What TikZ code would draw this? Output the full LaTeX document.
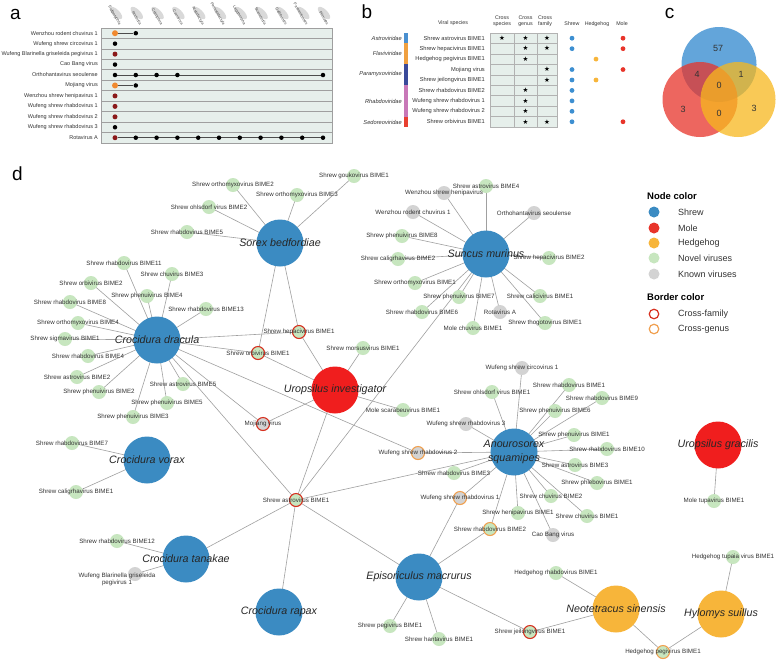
\documentclass[tikz,border=0pt]{standalone}
\usepackage{fontspec}
\setmainfont{Liberation Sans}
\newfontfamily\symfont{DejaVu Sans}
\pgfdeclarelayer{bg}\pgfdeclarelayer{edges}\pgfdeclarelayer{fg}
\pgfsetlayers{bg,edges,main,fg}
\definecolor{shrewc}{HTML}{3B8BC2}
\definecolor{molec}{HTML}{F01E1E}
\definecolor{hedgec}{HTML}{F7B53A}
\definecolor{novc}{HTML}{C7E6BF}
\definecolor{knownc}{HTML}{D3D3D3}
\definecolor{cfred}{HTML}{D7301F}
\definecolor{cgor}{HTML}{F0A050}
\definecolor{edgec}{HTML}{A0A0A0}
\definecolor{labc}{HTML}{333333}
\definecolor{rowbg}{HTML}{E6EFEB}
\definecolor{aor}{HTML}{F08A30}
\definecolor{adred}{HTML}{8B1A1A}
\definecolor{fastro}{HTML}{4A90D0}
\definecolor{fflavi}{HTML}{F0A040}
\definecolor{fparam}{HTML}{3A4A9A}
\definecolor{frhab}{HTML}{C878B8}
\definecolor{fsedo}{HTML}{E84030}
\definecolor{vblue}{HTML}{3D8FD1}
\definecolor{vred}{HTML}{E8342A}
\definecolor{vyel}{HTML}{F7B81E}
\tikzset{
  edge/.style={draw=edgec, line width=0.6pt},
  vir/.style={circle, inner sep=0pt, minimum size=14pt, fill=novc},
  nov/.style={fill=novc},
  kno/.style={fill=knownc},
  cf/.style={draw=cfred, line width=1.1pt, minimum size=13pt},
  cg/.style={draw=cgor, line width=1.1pt, minimum size=13pt},
  host/.style={circle, inner sep=0pt, minimum size=47pt},
  vlab/.style={font=\fontsize{6.2}{7}\selectfont, text=labc, inner sep=0pt, align=center},
  hlab/.style={font=\fontsize{10.7}{13.5}\selectfont\itshape, text=black!85, inner sep=0pt, align=center},
  plet/.style={font=\fontsize{19}{19}\selectfont, inner sep=0pt},
  rowbox/.style={fill=rowbg, draw=gray!75, line width=0.7pt},
  cellbox/.style={fill=rowbg, draw=gray!60, line width=0.5pt},
  alab/.style={font=\fontsize{5.5}{7}\selectfont, text=labc, inner sep=0pt, anchor=east},
  adot/.style={circle, inner sep=0pt, minimum size=4.5pt},
  aline/.style={draw=black!70, line width=0.7pt},
  ahead/.style={font=\fontsize{3.9}{4.5}\selectfont, text=black!70, inner sep=0pt, rotate=-60},
  blab/.style={font=\fontsize{5.7}{7}\selectfont, text=labc, inner sep=0pt, anchor=east},
  bfam/.style={font=\fontsize{5.7}{7}\selectfont\itshape, text=labc, inner sep=0pt, anchor=east},
  bhead/.style={font=\fontsize{5.3}{6.3}\selectfont, text=labc, inner sep=0pt, align=center},
  bstar/.style={font=\symfont\fontsize{6.5}{7}\selectfont, inner sep=0pt},
  bdot/.style={circle, inner sep=0pt, minimum size=4.8pt},
  vnum/.style={font=\fontsize{9}{10}\selectfont, text=black!80, inner sep=0pt},
  legt/.style={font=\fontsize{9.5}{11}\selectfont\bfseries, inner sep=0pt, anchor=west},
  legl/.style={font=\fontsize{9}{11}\selectfont, text=black!80, inner sep=0pt, anchor=west},
  legc/.style={circle, inner sep=0pt, minimum size=11pt},
}
\newcommand\vnode[5][]{\node[vir,#1] (#2) at (#3,#4) {};%
  \begin{pgfonlayer}{fg}\node[vlab] (#2l) at (#3,#4) {#5};\end{pgfonlayer}}
\newcommand\hnode[5]{\node[host,fill=#1] (#2) at (#3,#4) {};%
  \begin{pgfonlayer}{fg}\node[hlab] (#2l) at (#3,#4) {#5};\end{pgfonlayer}}
\begin{document}
\begin{tikzpicture}[x=1pt,y=-1pt]
\useasboundingbox (0,0) rectangle (778,662);
\begin{pgfonlayer}{bg}\fill[white] (0,0) rectangle (778,662);\end{pgfonlayer}

% ---------- panel letters
\node[plet] (la) at (15.5,14.5) {a};
\node[plet] (lb) at (367,11.5) {b};
\node[plet] (lc) at (669.5,13) {c};
\node[plet] (ld) at (17.5,173.5) {d};

% ---------- panel a
\foreach \j/\t in {1/Eulipotyphla,2/Rodentia,3/Chiroptera,4/Carnivora,5/Artiodactyla,6/Perissodactyla,7/Lagomorpha,8/Scandentia,9/Galliformes,10/Passeriformes,11/Primates}{
  \pgfmathsetmacro\xc{115+20.8*(\j-1)}
  \begin{pgfonlayer}{bg}\fill[gray!30] (\xc+1,13) ellipse[x radius=8pt, y radius=3.5pt, rotate=-45];\end{pgfonlayer}
  \node[ahead, anchor=east] (ah\j) at (\xc+5,25) {\t};
}
\foreach \i/\lab/\c/\s in {
 1/Wenzhou rodent chuvirus 1/aor/6,
 2/Wufeng shrew circovirus 1/black/4.5,
 3/Wufeng Blarinella griseleida pegivirus 1/adred/5,
 4/Cao Bang virus/black/4.5,
 5/Orthohantavirus seoulense/black/4.5,
 6/Mojiang virus/aor/6,
 7/Wenzhou shrew henipavirus 1/adred/5,
 8/Wufeng shrew rhabdovirus 1/adred/5,
 9/Wufeng shrew rhabdovirus 2/adred/5,
 10/Wufeng shrew rhabdovirus 3/black/4.5,
 11/Rotavirus A/adred/5}{
  \pgfmathsetmacro\yt{28+10.45*(\i-1)}
  \pgfmathsetmacro\yb{\yt+10.45}
  \pgfmathsetmacro\yc{\yt+5.22}
  \begin{pgfonlayer}{bg}\draw[rowbox] (101,\yt) rectangle (332,\yb);\end{pgfonlayer}
  \node[alab] (ar\i) at (98,\yc) {\lab};
  \node[adot, fill=\c, minimum size=\s pt] (a\i-1) at (115,\yc) {};
}
\foreach \i/\j in {1/2,5/2,5/3,5/4,5/11,6/2,11/2,11/3,11/4,11/5,11/6,11/7,11/8,11/9,11/10,11/11}{
  \pgfmathsetmacro\yc{33.22+10.45*(\i-1)}
  \pgfmathsetmacro\xc{115+20.8*(\j-1)}
  \node[adot, fill=black] (a\i-\j) at (\xc,\yc) {};
}
\begin{pgfonlayer}{edges}
\draw[aline] (a1-1) -- (a1-2);
\draw[aline] (a5-1) -- (a5-11);
\draw[aline] (a6-1) -- (a6-2);
\draw[aline] (a11-1) -- (a11-11);
\end{pgfonlayer}

% ---------- panel b
\node[bhead] (bh0) at (453,23) {Viral species};
\node[bhead] (bh1) at (502,21.5) {Cross\\species};
\node[bhead] (bh2) at (525.5,21.5) {Cross\\genus};
\node[bhead] (bh3) at (545,21.5) {Cross\\family};
\node[bhead] (bh4) at (572,24) {Shrew};
\node[bhead] (bh5) at (597,24) {Hedgehog};
\node[bhead] (bh6) at (622,24) {Mole};
\foreach \i/\sp/\s/\g/\f/\hs/\hh/\hm in {
 1/Shrew astrovirus BIME1/1/1/1/1/0/1,
 2/Shrew hepacivirus BIME1/0/1/1/1/0/1,
 3/Hedgehog pegivirus BIME1/0/1/0/0/1/0,
 4/Mojiang virus/0/0/1/1/0/1,
 5/Shrew jeilongvirus  BIME1/0/0/1/1/1/0,
 6/Shrew rhabdovirus BIME2/0/1/0/1/0/0,
 7/Wufeng shrew rhabdovirus 1/0/1/0/1/0/0,
 8/Wufeng shrew rhabdovirus 2/0/1/0/1/0/0,
 9/Shrew orbivirus BIME1/0/1/1/1/0/1}{
  \pgfmathsetmacro\yt{33+10.44*(\i-1)}
  \pgfmathsetmacro\yb{\yt+10.44}
  \pgfmathsetmacro\yc{\yt+5.22}
  \begin{pgfonlayer}{bg}
  \draw[cellbox] (490,\yt) rectangle (514,\yb);
  \draw[cellbox] (514,\yt) rectangle (537,\yb);
  \draw[cellbox] (537,\yt) rectangle (557,\yb);
  \end{pgfonlayer}
  \node[blab] (bsp\i) at (485,\yc) {\sp};
  \ifnum\s=1 \node[bstar] (bss\i) at (502,\yc) {★};\fi
  \ifnum\g=1 \node[bstar] (bsg\i) at (525.5,\yc) {★};\fi
  \ifnum\f=1 \node[bstar] (bsf\i) at (547,\yc) {★};\fi
  \ifnum\hs=1 \node[bdot, fill=vblue] (bds\i) at (572,\yc) {};\fi
  \ifnum\hh=1 \node[bdot, fill=hedgec] (bdh\i) at (596,\yc) {};\fi
  \ifnum\hm=1 \node[bdot, fill=vred] (bdm\i) at (623,\yc) {};\fi
}
\fill[fastro] (404,33) rectangle (407.5,43.44);
\fill[fflavi] (404,43.44) rectangle (407.5,64.32);
\fill[fparam] (404,64.32) rectangle (407.5,85.2);
\fill[frhab] (404,85.2) rectangle (407.5,116.52);
\fill[fsedo] (404,116.52) rectangle (407.5,127);
\node[bfam] (bf1) at (402,38) {Astroviridae};
\node[bfam] (bf2) at (402,53.5) {Flaviviridae};
\node[bfam] (bf3) at (402,74.5) {Paramyxoviridae};
\node[bfam] (bf4) at (402,101) {Rhabdoviridae};
\node[bfam] (bf5) at (402,122) {Sedoreoviridae};

% ---------- panel c
\fill[vblue, fill opacity=0.8] (719,64.5) circle (37.5pt);
\fill[vred, fill opacity=0.75] (700,99.5) circle (37.5pt);
\fill[vyel, fill opacity=0.75] (738,99.5) circle (37.5pt);
\node[vnum] (c57) at (718,48) {57};
\node[vnum] (c4) at (697,74) {4};
\node[vnum] (c1) at (741,74) {1};
\node[vnum] (c0a) at (719,85) {0};
\node[vnum] (c3a) at (683,109) {3};
\node[vnum] (c0b) at (719,113) {0};
\node[vnum] (c3b) at (754,108) {3};

% ---------- panel d legend
\node[legt] (lnc) at (647,196) {Node color};
\node[legc, fill=shrewc] (lg1) at (654,212) {}; \node[legl] (lt1) at (678,212) {Shrew};
\node[legc, fill=vred] (lg2) at (654,228) {}; \node[legl] (lt2) at (678,228) {Mole};
\node[legc, fill=hedgec] (lg3) at (654,243) {}; \node[legl] (lt3) at (678,243) {Hedgehog};
\node[legc, fill=novc] (lg4) at (654,258) {}; \node[legl] (lt4) at (678,258) {Novel viruses};
\node[legc, fill=knownc] (lg5) at (654,274) {}; \node[legl] (lt5) at (678,274) {Known viruses};
\node[legt] (lbc) at (647,297) {Border color};
\node[legc, fill=white, draw=cfred, line width=1.2pt, minimum size=9.5pt] (lg6) at (654,314) {}; \node[legl] (lt6) at (678,314) {Cross-family};
\node[legc, fill=white, draw=cgor, line width=1.2pt, minimum size=9.5pt] (lg7) at (654,329) {}; \node[legl] (lt7) at (678,329) {Cross-genus};

% ---------- panel d hosts
\hnode{shrewc}{SB}{280}{243}{Sorex bedfordiae}
\hnode{shrewc}{SM}{486}{254}{Suncus murinus}
\hnode{shrewc}{CD}{157}{340}{Crocidura dracula}
\hnode{molec}{UI}{335}{390}{Uropsilus investigator}
\hnode{shrewc}{CV}{147}{460}{Crocidura vorax}
\hnode{shrewc}{CT}{186}{559}{Crocidura tanakae}
\hnode{shrewc}{CR}{279}{612}{Crocidura rapax}
\hnode{shrewc}{EM}{419}{577}{Episoriculus macrurus}
\hnode{shrewc}{AS}{514}{452}{Anourosorex\\squamipes}
\hnode{molec}{UG}{718}{445}{Uropsilus gracilis}
\hnode{hedgec}{NS}{616}{609}{Neotetracus sinensis}
\hnode{hedgec}{HS}{721}{614}{Hylomys suillus}

% ---------- panel d viruses
\vnode{v1}{233}{185}{Shrew orthomyxovirus BIME2}
\vnode{v2}{209}{207}{Shrew ohlsdorf virus BIME2}
\vnode{v3}{187}{232}{Shrew rhabdovirus BIME5}
\vnode{v4}{297}{195}{Shrew orthomyxovirus BIME3}
\vnode{v5}{354}{176}{Shrew goukovirus BIME1}
\vnode[cf]{hep1}{299}{332}{Shrew hepacivirus BIME1}
\vnode[cf]{orb1}{258}{353}{Shrew orbivirus BIME1}
\vnode[kno]{v8}{444}{193}{Wenzhou shrew henipavirus}
\vnode{v9}{486}{186}{Shrew astrovirus BIME4}
\vnode[kno]{v10}{413}{212}{Wenzhou rodent chuvirus 1}
\vnode[kno]{v11}{534}{213}{Orthohantavirus seoulense}
\vnode{v12}{402}{236}{Shrew phenuivirus BIME8}
\vnode{v13}{398}{259}{Shrew caligrhavirus BIME2}
\vnode{v14}{549}{258}{Shrew hepacivirus BIME2}
\vnode{v15}{415}{283}{Shrew orthomyxovirus BIME1}
\vnode{v16}{459}{297}{Shrew phenuivirus BIME7}
\vnode{v17}{422}{312}{Shrew rhabdovirus BIME6}
\vnode[kno]{v18}{500}{312}{Rotavirus A}
\vnode{v19}{473}{328}{Mole chuvirus BIME1}
\vnode{v20}{540}{296}{Shrew calicivirus BIME1}
\vnode{v21}{545}{323}{Shrew thogotovirus BIME1}
\vnode{v22}{363}{348}{Shrew morsusvirus BIME1}
\vnode{v23}{124}{263}{Shrew rhabdovirus BIME11}
\vnode{v24}{172}{274}{Shrew chuvirus BIME3}
\vnode{v25}{91}{283}{Shrew orbivirus BIME2}
\vnode{v26}{147}{296}{Shrew phenuivirus BIME4}
\vnode{v27}{70}{302}{Shrew rhabdovirus BIME8}
\vnode{v28}{206}{309}{Shrew rhabdovirus BIME13}
\vnode{v29}{78}{323}{Shrew orthomyxovirus BIME4}
\vnode{v30}{65}{339}{Shrew sigmavirus BIME1}
\vnode{v31}{88}{356}{Shrew rhabdovirus BIME4}
\vnode{v32}{77}{377}{Shrew astrovirus BIME2}
\vnode{v33}{99}{392}{Shrew phenuivirus BIME2}
\vnode{v34}{183}{384}{Shrew astrovirus BIME5}
\vnode{v35}{167}{403}{Shrew phenuivirus BIME5}
\vnode{v36}{133}{417}{Shrew phenuivirus BIME3}
\vnode[kno,cf]{moj}{263}{424}{Mojiang virus}
\vnode{v38}{403}{410}{Mole scarabeuvirus BIME1}
\vnode[cf]{astro1}{296}{500}{Shrew astrovirus BIME1}
\vnode{v40}{72}{443}{Shrew rhabdovirus BIME7}
\vnode{v41}{76}{492}{Shrew caligrhavirus BIME1}
\vnode{v42}{117}{541}{Shrew rhabdovirus BIME12}
\node[vir,kno] (v43) at (135,574) {};
\begin{pgfonlayer}{fg}\node[vlab] (v43l) at (117,579.5) {Wufeng Blarinella griseleida\\pegivirus 1};\end{pgfonlayer}
\vnode{v44}{492}{392}{Shrew ohlsdorf virus BIME1}
\vnode[kno]{v45}{522}{368}{Wufeng shrew circovirus 1}
\vnode[kno]{v46}{466}{424}{Wufeng shrew rhabdovirus 3}
\vnode[kno,cg]{wr2}{418}{453}{Wufeng shrew rhabdovirus 2}
\vnode{v48}{454}{473}{Shrew rhabdovirus BIME3}
\vnode[kno,cg]{wr1}{460}{498}{Wufeng shrew rhabdovirus 1}
\vnode{v50}{518}{513}{Shrew henipavirus BIME1}
\vnode[cg]{rb2}{490}{529}{Shrew rhabdovirus BIME2}
\vnode[kno]{v52}{553}{535}{Cao Bang virus}
\vnode{v53}{551}{496}{Shrew chuvirus BIME2}
\vnode{v54}{587}{516}{Shrew chuvirus BIME1}
\vnode{v55}{597}{483}{Shrew phlebovirus BIME1}
\vnode{v56}{575}{465}{Shrew astrovirus BIME3}
\vnode{v57}{607}{449}{Shrew rhabdovirus BIME10}
\vnode{v58}{574}{435}{Shrew phenuivirus BIME1}
\vnode{v59}{555}{411}{Shrew phenuivirus BIME6}
\vnode{v60}{569}{385}{Shrew rhabdovirus BIME1}
\vnode{v61}{602}{398}{Shrew rhabdovirus BIME9}
\vnode{v62}{714}{501}{Mole tupavirus BIME1}
\vnode{v63}{390}{626}{Shrew pegivirus BIME1}
\vnode{v64}{439}{639}{Shrew hantavirus BIME1}
\vnode[cf]{jei}{530}{632}{Shrew jeilongvirus BIME1}
\vnode{v66}{556}{573}{Hedgehog rhabdovirus BIME1}
\vnode[cg]{hpeg}{663}{652}{Hedgehog pegivirus BIME1}
\vnode{v68}{733}{557}{Hedgehog tupaia virus BIME1}

% ---------- panel d edges
\begin{pgfonlayer}{edges}
\foreach \a/\b in {SB/v1,SB/v2,SB/v3,SB/v4,SB/v5,SB/hep1,SB/orb1,
  SM/v8,SM/v9,SM/v10,SM/v11,SM/v12,SM/v13,SM/v14,SM/v15,SM/v16,SM/v17,SM/v18,SM/v19,SM/v20,SM/v21,SM/astro1,
  CD/v23,CD/v24,CD/v25,CD/v26,CD/v27,CD/v28,CD/v29,CD/v30,CD/v31,CD/v32,CD/v33,CD/v34,CD/v35,CD/v36,
  CD/hep1,CD/orb1,CD/moj,CD/astro1,CD/wr2,
  UI/hep1,UI/orb1,UI/v22,UI/v38,UI/moj,UI/astro1,
  CV/v40,CV/v41,CT/v42,CT/v43,CT/astro1,CR/astro1,
  EM/astro1,EM/wr1,EM/rb2,EM/v63,EM/v64,EM/jei,
  AS/v44,AS/v45,AS/v46,AS/wr2,AS/v48,AS/wr1,AS/v50,AS/rb2,AS/v52,AS/v53,AS/v54,AS/v55,AS/v56,AS/v57,AS/v58,AS/v59,AS/v60,AS/v61,AS/astro1,
  UG/v62,NS/v66,NS/jei,NS/hpeg,HS/v68,HS/hpeg}
  \draw[edge] (\a.center) -- (\b.center);
\end{pgfonlayer}
\end{tikzpicture}
\end{document}
